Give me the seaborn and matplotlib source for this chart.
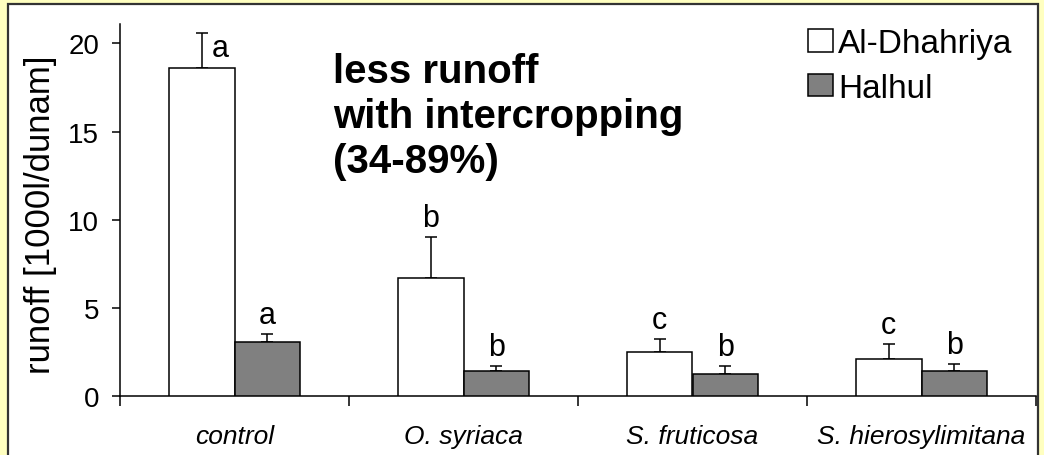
"""Runoff per treatment at two sites, bar chart with error bars and letters."""
import numpy as np
import pandas as pd
import matplotlib
matplotlib.use("Agg")
import matplotlib.pyplot as plt
from matplotlib.patches import Rectangle
import seaborn as sns

species = ["control", "O. syriaca", "S. fruticosa", "S. hierosylimitana"]
sites = ["Al-Dhahriya", "Halhul"]
dhahriya_mean = [18.6, 6.7, 2.48, 2.1]
dhahriya_err = [2.0, 2.3, 0.76, 0.85]
halhul_mean = [3.07, 1.44, 1.25, 1.44]
halhul_err = [0.45, 0.27, 0.44, 0.38]
dhahriya_letters = ["a", "b", "c", "c"]
halhul_letters = ["a", "b", "b", "b"]
note = "less runoff\nwith intercropping\n(34-89%)"

BG = "#FFFFC0"
W, H = 1044, 456


def main():
    sns.set_style("ticks")
    plt.rcParams.update({
        "font.family": ["Liberation Sans", "DejaVu Sans"],
        "text.color": "black",
        "axes.labelcolor": "black",
        "xtick.color": "black",
        "ytick.color": "black",
    })

    df = pd.DataFrame({
        "species": species * 2,
        "site": [sites[0]] * 4 + [sites[1]] * 4,
        "runoff": dhahriya_mean + halhul_mean,
    })

    fig = plt.figure(figsize=(W / 100, H / 100), dpi=100, facecolor=BG)
    # white panel with dark frame
    fig.patches.append(Rectangle((8 / W, -0.02), 1030 / W, 1 - 5 / H + 0.02,
                                 transform=fig.transFigure, facecolor="white",
                                 edgecolor="#333333", linewidth=1.6, zorder=-5))

    ax = fig.add_axes([120 / W, 59 / H, 916 / W, (397 - 25) / H])
    ax.set_facecolor("none")
    sns.barplot(data=df, x="species", y="runoff", hue="site",
                palette=["white", "#808080"], edgecolor="black", linewidth=1.1,
                width=0.57, errorbar=None, ax=ax, zorder=3)

    errs = [dhahriya_err, halhul_err]
    letters = [dhahriya_letters, halhul_letters]
    bar_conts = list(ax.containers)
    for k, cont in enumerate(bar_conts):
        for i, bar in enumerate(cont.patches):
            xc = bar.get_x() + bar.get_width() / 2
            top = bar.get_height()
            ax.errorbar(xc, top, yerr=[[0], [errs[k][i]]], fmt="none",
                        ecolor="black", elinewidth=1.1, capsize=4.5,
                        capthick=1.1, zorder=2)
            if k == 0 and i == 0:
                ax.annotate(letters[k][i], (xc, top + errs[k][i]),
                            xytext=(7, -17), textcoords="offset points",
                            ha="left", va="baseline", fontsize=22)
            else:
                ax.annotate(letters[k][i], (xc, top + errs[k][i]),
                            xytext=(0, 8), textcoords="offset points",
                            ha="center", va="baseline", fontsize=22)

    ax.set_xlim(-0.5, 3.5)
    ax.set_ylim(0, 21.1)
    ax.set_yticks([0, 5, 10, 15, 20])
    ax.set_xticks(range(4))
    ax.set_xticklabels(species, fontsize=19, fontstyle="italic")
    ax.set_xticks(np.arange(-0.5, 4, 1), minor=True)
    ax.tick_params(axis="x", which="major", length=0, pad=20)
    ax.tick_params(axis="x", which="minor", length=7, width=1.1,
                   direction="out")
    ax.tick_params(axis="y", length=6, width=1.1, direction="out",
                   labelsize=20, pad=9)
    ax.set_xlabel("")
    ax.set_ylabel("runoff [1000l/dunam]", fontsize=25)
    ax.yaxis.set_label_coords(-0.069, 0.49)
    sns.despine(ax=ax)
    for s in ("left", "bottom"):
        ax.spines[s].set_linewidth(1.1)
        ax.spines[s].set_color("black")

    ax.legend(loc="upper left", bbox_to_anchor=(808 / W, 1 - 29 / H),
              bbox_transform=fig.transFigure, frameon=False, fontsize=24,
              handlelength=0.76, handleheight=0.67, handletextpad=0.15,
              labelspacing=0.41, borderpad=0, borderaxespad=0)

    fig.text(333 / W, 1 - 53 / H, note, ha="left", va="top", fontsize=29,
             fontweight="bold", linespacing=1.24)

    fig.savefig("out.png", dpi=100, facecolor=BG)
    plt.close(fig)


if __name__ == "__main__":
    main()
